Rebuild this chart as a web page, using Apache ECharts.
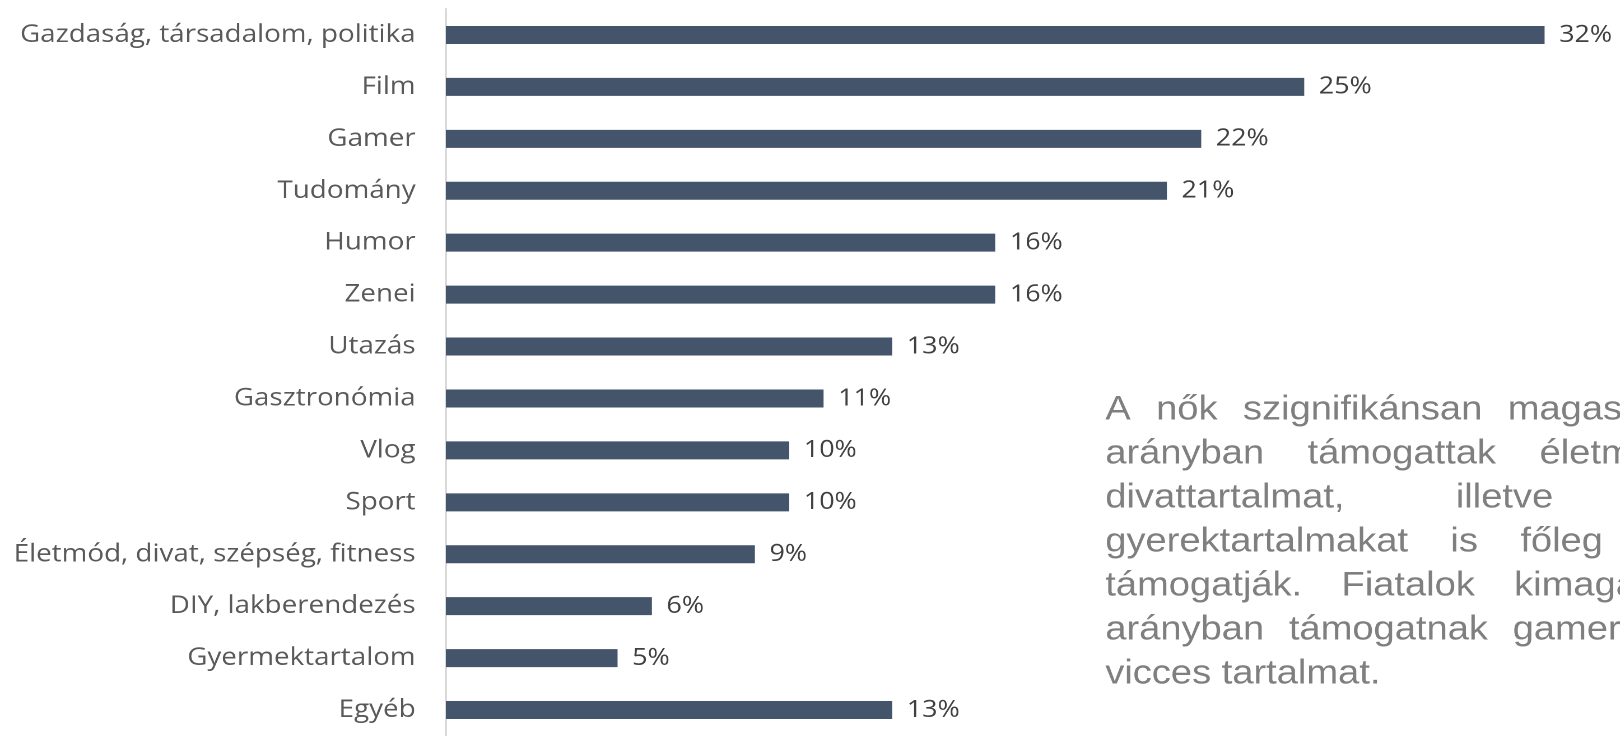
<!DOCTYPE html>
<html lang="hu">
<head>
<meta charset="utf-8">
<title>Támogatott tartalmak</title>
<script src="https://cdn.jsdelivr.net/npm/echarts@6/dist/echarts.min.js"></script>
<style>
  html, body { margin: 0; padding: 0; background: #ffffff; overflow: hidden; }
  #stage { width: 1620px; height: 736px; overflow: hidden; position: relative; }
  /* the slide art is set wide: the chart is laid out narrower and widened */
  #chart { width: 1446px; height: 736px; transform: scaleX(1.1203); transform-origin: 0 0; }
</style>
</head>
<body>
<div id="stage"><div id="chart"></div></div>
<script>
// Content categories, top to bottom
const categories = [
  'Gazdaság, társadalom, politika',
  'Film',
  'Gamer',
  'Tudomány',
  'Humor',
  'Zenei',
  'Utazás',
  'Gasztronómia',
  'Vlog',
  'Sport',
  'Életmód, divat, szépség, fitness',
  'DIY, lakberendezés',
  'Gyermektartalom',
  'Egyéb'
];

// Share of respondents supporting each kind of content (%)
const shares = [32, 25, 22, 21, 16, 16, 13, 11, 10, 10, 9, 6, 5, 13];

// Side note, one entry per printed line
const noteLines = [
  'A nők szignifikánsan magasabb',
  'arányban támogattak életmód,',
  'divattartalmat, illetve a',
  'gyerektartalmakat is főleg ők',
  'támogatják. Fiatalok kimagasló',
  'arányban támogatnak gamer és',
  'vicces tartalmat.'
];

const NOTE_FONT = '34px "Liberation Sans", Arial, sans-serif';

// Lay out the note as a justified block: every line but the last is
// stretched to the full block width by widening the word gaps.
function justifiedNote(lines, left, top, width, lineHeight) {
  const ctx = document.createElement('canvas').getContext('2d');
  ctx.font = NOTE_FONT;
  const space = ctx.measureText(' ').width;
  const out = [];
  lines.forEach((line, i) => {
    const words = line.split(' ');
    const widths = words.map(w => ctx.measureText(w).width);
    const total = widths.reduce((a, b) => a + b, 0);
    const isLast = i === lines.length - 1;
    const gap = (isLast || words.length < 2) ? space : (width - total) / (words.length - 1);
    let x = left;
    words.forEach((w, j) => {
      out.push({
        type: 'text',
        x: x,
        y: top + i * lineHeight,
        silent: true,
        style: {
          text: w,
          font: NOTE_FONT,
          fill: '#7f7f7f',
          textAlign: 'left',
          textVerticalAlign: 'middle'
        }
      });
      x += widths[j] + gap;
    });
  });
  return out;
}

const chart = echarts.init(document.getElementById('chart'), null, { renderer: 'canvas', devicePixelRatio: 2 });

const option = {
  backgroundColor: '#ffffff',
  animation: false,
  grid: { left: 398, top: 9, width: 1042, height: 732, containLabel: false },
  xAxis: {
    type: 'value',
    min: 0,
    max: 34,
    show: false,
    splitLine: { show: false }
  },
  yAxis: {
    type: 'category',
    data: categories,
    inverse: true,
    axisLine: { show: true, lineStyle: { color: '#d9d9d9', width: 2 } },
    axisTick: { show: false },
    splitLine: { show: false },
    axisLabel: {
      margin: 27,
      color: '#595959',
      fontFamily: '"Open Sans", sans-serif',
      fontSize: 24.8
    }
  },
  series: [{
    type: 'bar',
    data: shares,
    barWidth: 18,
    itemStyle: { color: '#44546a' },
    label: {
      show: true,
      position: 'right',
      distance: 13,
      formatter: '{c}%',
      color: '#404040',
      fontFamily: '"Open Sans", sans-serif',
      fontSize: 24
    },
    silent: true
  }],
  graphic: justifiedNote(noteLines, 986.6, 410, 518, 44)
};

chart.setOption(option);
</script>
</body>
</html>
